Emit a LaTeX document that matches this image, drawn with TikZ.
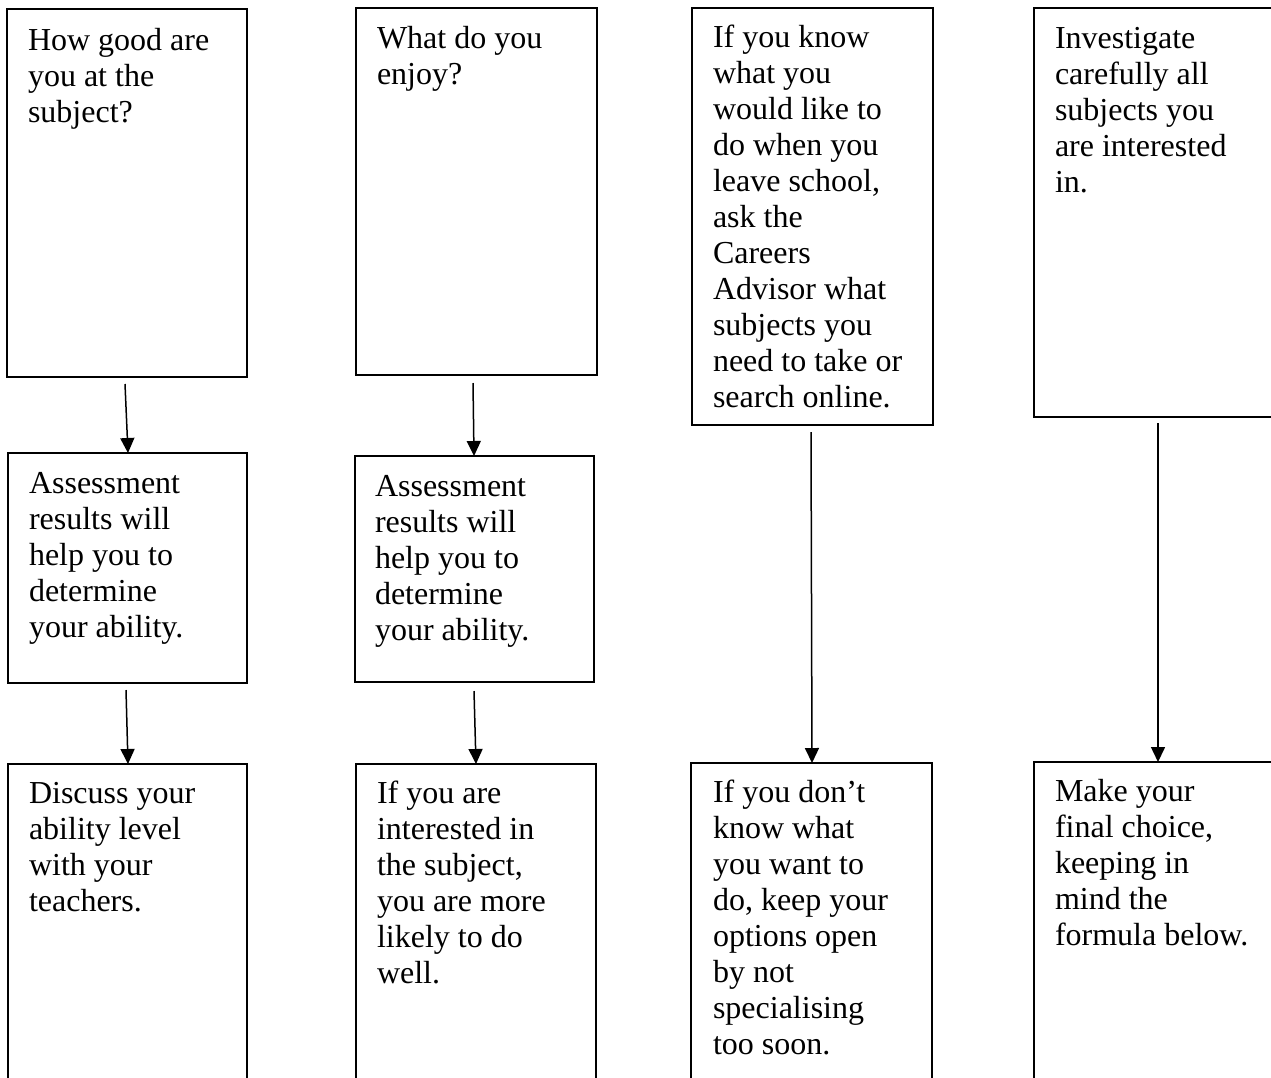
\documentclass[tikz,border=0pt]{standalone}
\usepackage{fontspec}
\setmainfont{Liberation Serif}
\usetikzlibrary{arrows.meta,calc}
\tikzset{
  box/.style={draw=black,line width=1.5pt,inner sep=0pt,outer sep=0pt,anchor=north west},
  txt/.style={anchor=base west,inner sep=0pt,outer sep=0pt,font=\fontsize{32}{36}\selectfont},
  arr/.style={line width=1.5pt,-{Triangle[width=14pt,length=15pt]}}
}
\newcommand{\boxtext}[1]{\parbox[t]{230pt}{\raggedright #1}}
\begin{document}
\begin{tikzpicture}[x=1pt,y=-1pt]
\useasboundingbox (0,0) rectangle (1271,1077);
% boxes
\node[box,minimum width=240pt,minimum height=368pt] (a1) at (7,9) {};
\node[box,minimum width=241pt,minimum height=367pt] (b1) at (356,8) {};
\node[box,minimum width=241pt,minimum height=417pt] (c1) at (692,8) {};
\node[box,minimum width=250pt,minimum height=409pt] (d1) at (1034,8) {};
\node[box,minimum width=239pt,minimum height=230pt] (a2) at (8,453) {};
\node[box,minimum width=239pt,minimum height=226pt] (b2) at (355,456) {};
\node[box,minimum width=239pt,minimum height=330pt] (a3) at (8,764) {};
\node[box,minimum width=240pt,minimum height=330pt] (b3) at (356,764) {};
\node[box,minimum width=241pt,minimum height=330pt] (c3) at (691,763) {};
\node[box,minimum width=250pt,minimum height=330pt] (d3) at (1034,762) {};
% texts
\node[txt] (ta1) at ($(a1.north west)+(21,41)$) {\boxtext{How good are\\you at the\\subject?}};
\node[txt] (tb1) at ($(b1.north west)+(21,40)$) {\boxtext{What do you\\enjoy?}};
\node[txt] (tc1) at ($(c1.north west)+(21,39)$) {\boxtext{If you know\\what you\\would like to\\do when you\\leave school,\\ask the\\Careers\\Advisor what\\subjects you\\need to take or\\search online.}};
\node[txt] (td1) at ($(d1.north west)+(21,40)$) {\boxtext{Investigate\\carefully all\\subjects you\\are interested\\in.}};
\node[txt] (ta2) at ($(a2.north west)+(21,40)$) {\boxtext{Assessment\\results will\\help you to\\determine\\your ability.}};
\node[txt] (tb2) at ($(b2.north west)+(20,40)$) {\boxtext{Assessment\\results will\\help you to\\determine\\your ability.}};
\node[txt] (ta3) at ($(a3.north west)+(21,39)$) {\boxtext{Discuss your\\ability level\\with your\\teachers.}};
\node[txt] (tb3) at ($(b3.north west)+(21,39)$) {\boxtext{If you are\\interested in\\the subject,\\you are more\\likely to do\\well.}};
\node[txt] (tc3) at ($(c3.north west)+(22,39)$) {\boxtext{If you don’t\\know what\\you want to\\do, keep your\\options open\\by not\\specialising\\too soon.}};
\node[txt] (td3) at ($(d3.north west)+(21,39)$) {\boxtext{Make your\\final choice,\\keeping in\\mind the\\formula below.}};
% arrow start/end points
\coordinate (s1) at (125,384); \coordinate (e1) at ($(a2.north west)+(120,0)$);
\coordinate (s2) at (473,383); \coordinate (e2) at ($(b2.north west)+(119,0)$);
\coordinate (s3) at (126,690); \coordinate (e3) at ($(a3.north west)+(120,0)$);
\coordinate (s4) at (474,691); \coordinate (e4) at ($(b3.north west)+(120,0)$);
\coordinate (s5) at (811,432); \coordinate (e5) at ($(c3.north west)+(121,0)$);
\coordinate (s6) at (1158,423); \coordinate (e6) at ($(d3.north west)+(124,0)$);
\draw[arr] (s1) -- (e1);
\draw[arr] (s2) -- (e2);
\draw[arr] (s3) -- (e3);
\draw[arr] (s4) -- (e4);
\draw[arr] (s5) -- (e5);
\draw[arr] (s6) -- (e6);
\end{tikzpicture}
\end{document}
